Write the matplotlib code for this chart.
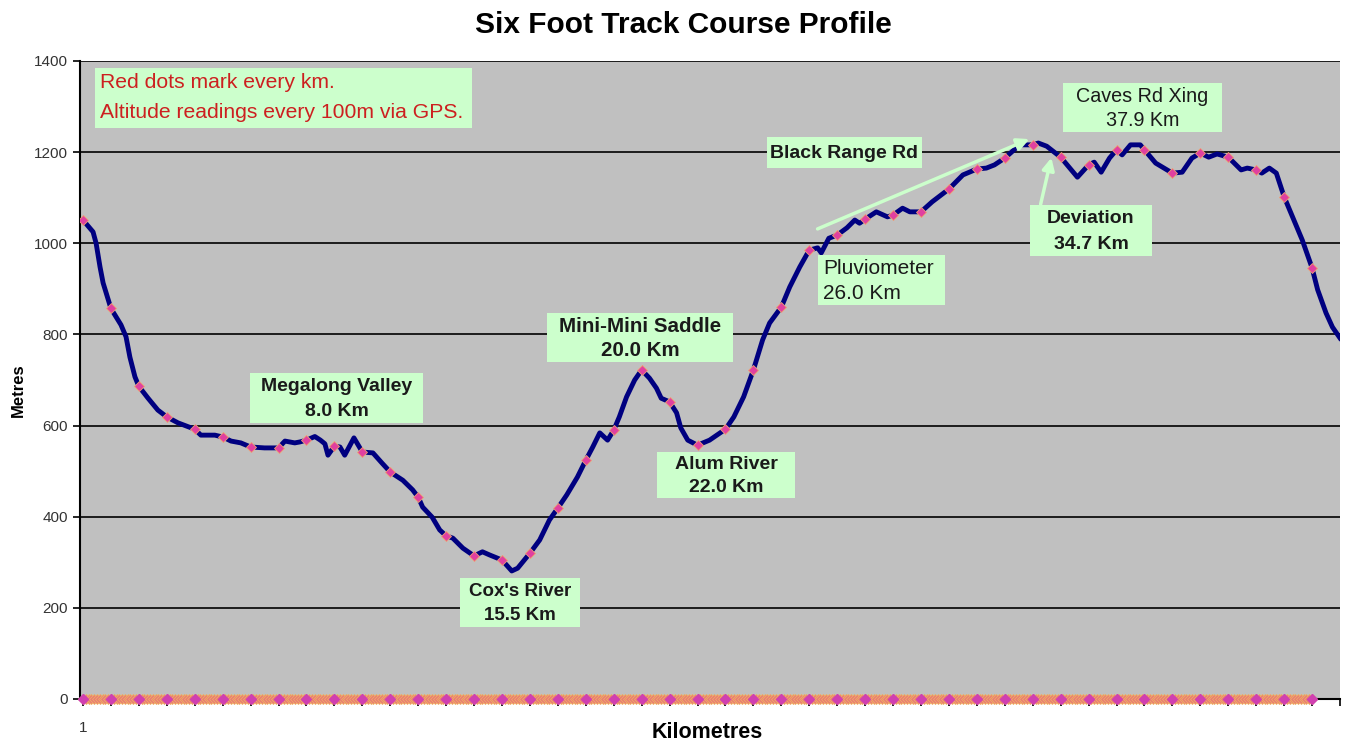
import matplotlib
matplotlib.use("Agg")
import matplotlib.pyplot as plt
from matplotlib.patches import Rectangle, FancyArrowPatch
import numpy as np

plt.rcParams['font.family'] = ['Liberation Sans', 'DejaVu Sans']

# ---- data ----
dist_km = [0.0, 0.36, 0.47, 0.61, 0.72, 1.0, 1.36, 1.54, 1.68, 1.86, 2.0, 2.33, 2.68, 3.0, 3.4,
           4.0, 4.22, 4.72, 5.0, 5.3, 5.65, 6.0, 6.5, 7.0, 7.23, 7.58, 7.76, 8.0, 8.3, 8.5,
           8.66, 8.77, 9.0, 9.2, 9.37, 9.7, 10.0, 10.38, 10.7, 11.0, 11.45, 11.8, 12.0, 12.16,
           12.5, 12.77, 13.0, 13.24, 13.6, 14.0, 14.3, 14.56, 15.0, 15.35, 15.56, 15.8, 16.0,
           16.35, 16.7, 17.0, 17.32, 17.7, 18.0, 18.25, 18.5, 18.78, 19.0, 19.2, 19.46, 19.75,
           20.0, 20.28, 20.53, 20.7, 21.0, 21.25, 21.4, 21.65, 22.0, 22.43, 23.0, 23.3, 23.65,
           24.0, 24.33, 24.58, 25.0, 25.3, 25.66, 26.0, 26.3, 26.43, 26.7, 27.0, 27.35, 27.63,
           27.8, 28.0, 28.4, 28.8, 29.0, 29.34, 29.6, 30.0, 30.4, 31.0, 31.5, 32.0, 32.34,
           32.63, 33.0, 33.24, 33.52, 34.0, 34.2, 34.5, 35.0, 35.3, 35.6, 36.0, 36.2, 36.45,
           36.75, 37.0, 37.2, 37.5, 37.85, 38.0, 38.4, 38.7, 39.0, 39.35, 39.7, 40.0, 40.3,
           40.6, 41.0, 41.46, 41.68, 42.0, 42.2, 42.47, 42.72, 43.0, 43.3, 43.65, 44.0, 44.2,
           44.5, 44.73, 45.0]
altitude_m = [1051, 1025, 1000, 948, 913, 857, 821, 795, 750, 707, 686, 660, 634, 619, 606,
              592, 579, 579, 575, 566, 562, 553, 551, 551, 566, 562, 564, 568, 576, 568,
              560, 535, 555, 553, 535, 573, 542, 540, 518, 498, 480, 459, 443, 421,
              399, 371, 358, 353, 331, 314, 323, 316, 305, 281, 287, 305, 320,
              349, 393, 419, 448, 487, 524, 553, 584, 568, 590, 619, 663, 700,
              722, 704, 682, 660, 652, 628, 595, 568, 557, 568, 592, 619, 663,
              722, 788, 825, 860, 904, 948, 985, 990, 979, 1011, 1018, 1034, 1051,
              1044, 1053, 1069, 1058, 1062, 1077, 1069, 1069, 1091, 1119, 1150, 1163, 1165,
              1172, 1187, 1200, 1216, 1216, 1220, 1213, 1189, 1167, 1145, 1172, 1178, 1156,
              1187, 1205, 1194, 1216, 1216, 1205, 1176, 1165, 1154, 1156, 1187, 1198, 1189,
              1196, 1189, 1161, 1165, 1161, 1154, 1165, 1154, 1102, 1058, 1007, 946, 898,
              847, 816, 792]

km_marks = [d for d in dist_km if float(d).is_integer() and d <= 44]
km_mark_alt = [a for d, a in zip(dist_km, altitude_m) if float(d).is_integer() and d <= 44]

y_ticks = [0, 200, 400, 600, 800, 1000, 1200, 1400]
x_tick_labels = ["1"]

labels = [
    # text, box (x0, y0, x1, y1) in pixels, align, bold, size
    ("Megalong Valley\n8.0 Km", (250, 373, 423, 423), 'center', True, 14),
    ("Cox's River\n15.5 Km", (460, 578, 580, 627), 'center', True, 13.5),
    ("Mini-Mini Saddle\n20.0 Km", (547, 313, 733, 362), 'center', True, 14.8),
    ("Alum River\n22.0 Km", (657, 452, 795, 498), 'center', True, 14),
    ("Pluviometer\n26.0 Km", (818, 255, 945, 305), 'left', False, 15),
    ("Black Range Rd", (767, 137, 922, 168), 'center', True, 14),
    ("Caves Rd Xing\n37.9 Km", (1063, 83, 1222, 132), 'center', False, 14.2),
    ("Deviation\n34.7 Km", (1030, 205, 1152, 256), 'center', True, 14),
]

W, H = 1346, 742
fig = plt.figure(figsize=(W / 100, H / 100), dpi=100, facecolor='white')
ax = fig.add_axes([80 / W, 1 - 699 / H, (1340 - 80) / W, (699 - 61) / H])
ax.set_facecolor('#c0c0c0')

ax.set_xlim(-0.107, 45.0)
ax.set_ylim(0, 1400)
ax.set_yticks(y_ticks)
ax.set_yticklabels([str(v) for v in y_ticks], fontsize=11, color='#333333')
ax.yaxis.grid(True, color='black', linewidth=1.2)
ax.set_axisbelow(True)
ax.set_xticks(np.arange(0, 46))
ax.set_xticklabels(x_tick_labels + [''] * 45, fontsize=11, color='#333333')
ax.tick_params(axis='both', direction='out', length=5, width=1.2, color='black')
ax.tick_params(axis='x', pad=11)
for s in ['top', 'right']:
    ax.spines[s].set_visible(False)
for s in ['left', 'bottom']:
    ax.spines[s].set_color('black')
    ax.spines[s].set_linewidth(1.5)

# profile line
ax.plot(dist_km, altitude_m, color='#000080', linewidth=3.5, solid_joinstyle='round', zorder=3)
ax.plot(km_marks, km_mark_alt, linestyle='none', marker='D', markersize=5.5,
        markerfacecolor='#e040a0', markeredgecolor='#f0a070', markeredgewidth=0.6, zorder=4)

# zero-value series along bottom
zero_x = np.arange(0, 441) / 10.0
ax.plot(zero_x, np.zeros_like(zero_x), linestyle='none', marker='D', markersize=5,
        markerfacecolor='#e87878', markeredgecolor='#f0b060', markeredgewidth=0.6,
        zorder=5, clip_on=False)
ax.plot(km_marks, [0] * len(km_marks), linestyle='none', marker='D', markersize=5,
        markerfacecolor='#d040b0', markeredgecolor='#d040b0', zorder=6, clip_on=False)

# titles
fig.text(683 / W, 1 - 25 / H, "Six Foot Track Course Profile", ha='center', va='center',
         fontsize=21.5, fontweight='bold', color='black')
fig.text(18 / W, 1 - 390 / H, "Metres", ha='center', va='center', rotation=90,
         fontsize=12, fontweight='bold')
fig.text(707 / W, 1 - 733 / H, "Kilometres", ha='center', va='center',
         fontsize=15.5, fontweight='bold')

BOX = '#ccffcc'

def px_rect(x0, y0, x1, y1):
    fig.patches.append(Rectangle((x0 / W, 1 - y1 / H), (x1 - x0) / W, (y1 - y0) / H,
                                 transform=fig.transFigure, facecolor=BOX, edgecolor='none',
                                 zorder=6))

# info box
px_rect(95, 68, 472, 128)
fig.text(100 / W, 1 - 83 / H, "Red dots mark every km.", ha='left', va='center',
         fontsize=15.2, color='#cc2020', zorder=7)
fig.text(100 / W, 1 - 113 / H, "Altitude readings every 100m via GPS.", ha='left', va='center',
         fontsize=15.2, color='#cc2020', zorder=7)

# arrows
for (x0, y0, x1, y1) in [(815, 230, 1032, 138), (1040, 207, 1052, 155)]:
    fig.patches.append(FancyArrowPatch((x0 / W, 1 - y0 / H), (x1 / W, 1 - y1 / H),
                                       transform=fig.transFigure, arrowstyle='-|>',
                                       mutation_scale=18, color=BOX, linewidth=2.5, zorder=5))

for text, (x0, y0, x1, y1), align, bold, size in labels:
    px_rect(x0, y0, x1, y1)
    lines = text.split('\n')
    n = len(lines)
    for i, line in enumerate(lines):
        yc = y0 + (y1 - y0) * (i + 0.5) / n + 1
        if align == 'center':
            xp, ha = (x0 + x1) / 2, 'center'
        else:
            xp, ha = x0 + 5, 'left'
        fig.text(xp / W, 1 - yc / H, line, ha=ha, va='center', fontsize=size,
                 fontweight='bold' if bold else 'normal', color='#1a1a1a', zorder=7)

fig.savefig('out.png', dpi=100, facecolor='white')
